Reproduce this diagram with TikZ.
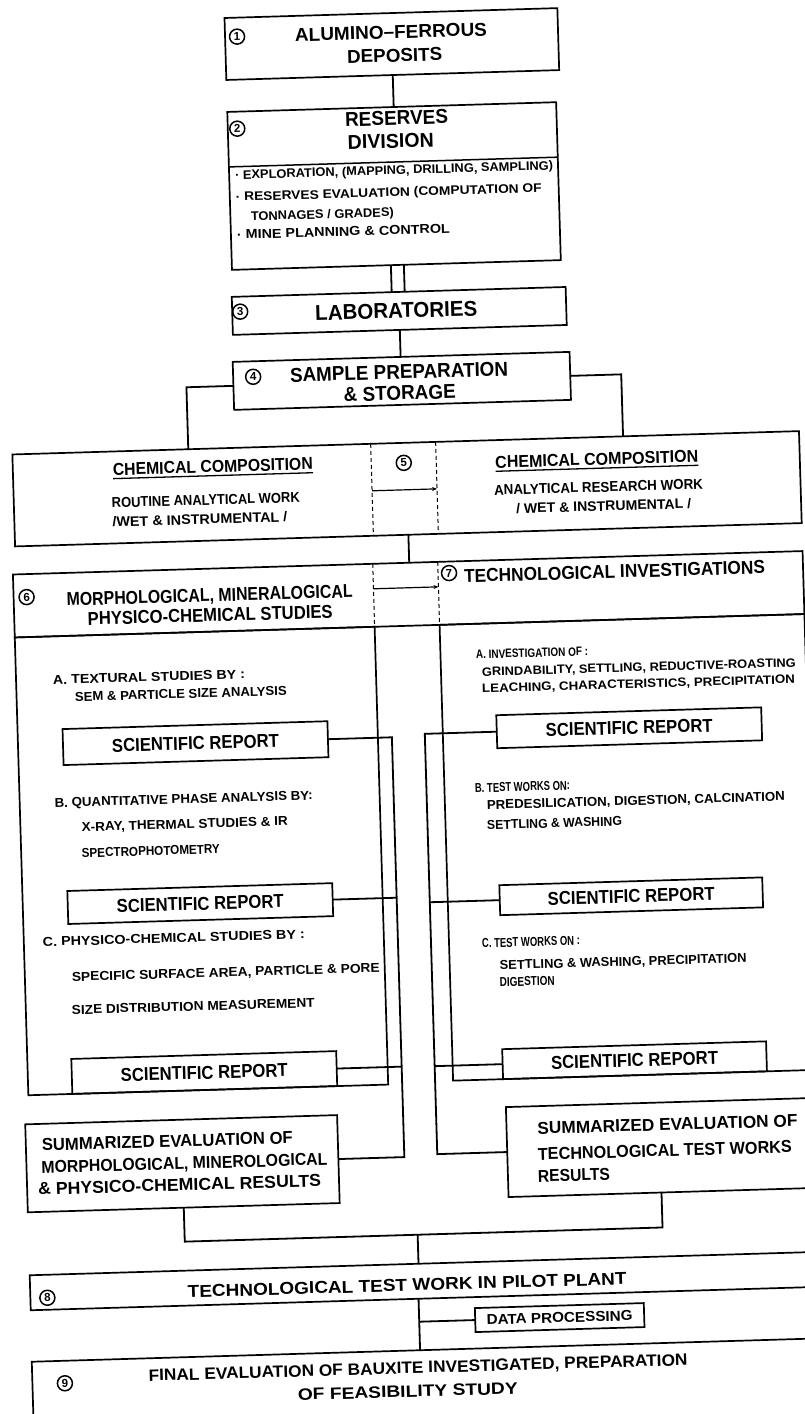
\documentclass[tikz,border=0pt]{standalone}
\usepackage{graphicx}
\usepackage{fontspec}
\setmainfont{Liberation Sans}
\usetikzlibrary{arrows.meta}
\newcommand\Lbl[3]{\resizebox{#2pt}{#1pt}{\bfseries #3}}
\begin{document}
\begin{tikzpicture}[x=1pt,y=-1pt,
 box/.style={draw, line width=1.7pt, inner sep=0pt, outer sep=0pt},
 tx/.style={inner sep=0pt, outer sep=0pt, anchor=base},
 tl/.style={inner sep=0pt, outer sep=0pt, anchor=base west},
 circ/.style={circle, draw, line width=1.5pt, minimum size=15pt, inner sep=0pt, font=\bfseries\fontsize{11.5}{11.5}\selectfont},
 ln/.style={line width=1.8pt},
 dsh/.style={line width=1pt, dash pattern=on 4pt off 3pt},
 arr/.style={line width=1.2pt, -{Stealth[length=5pt,width=4pt]}},
]
\path[use as bounding box, fill=white] (0,0) rectangle (805,1414);
\begin{scope}[rotate around={1.7:(402,707)}, transform shape]
% ---------- boxes ----------
\node[box, minimum width=333pt, minimum height=62pt] (b1) at (411.5,44) {};
\node[box, minimum width=329pt, minimum height=158pt] (b2) at (409.5,186) {};
\node[box, minimum width=334pt, minimum height=38pt] (b3) at (411,311) {};
\node[box, minimum width=337pt, minimum height=48pt] (b4) at (411.5,381) {};
\node[box, minimum width=787pt, minimum height=92pt] (b5) at (413.5,489) {};
\node[box, minimum width=790pt, minimum height=63pt] (hdr) at (412,594.5) {};
\node[box, minimum width=360pt, minimum height=458pt] (pl) at (197,855) {};
\node[box, minimum width=365pt, minimum height=456pt] (pr) at (624.5,854) {};
\node[box, minimum width=265pt, minimum height=36pt] (srl1) at (194.5,737) {\Lbl{13}{167}{SCIENTIFIC REPORT}};
\node[box, minimum width=265pt, minimum height=33pt] (srl2) at (194.5,897.5) {\Lbl{13}{167}{SCIENTIFIC REPORT}};
\node[box, minimum width=265pt, minimum height=35pt] (srl3) at (193.5,1066.5) {\Lbl{13}{167}{SCIENTIFIC REPORT}};
\node[box, minimum width=265pt, minimum height=33pt] (srr1) at (628.5,734.5) {\Lbl{13}{167}{SCIENTIFIC REPORT}};
\node[box, minimum width=263pt, minimum height=30pt] (srr2) at (625.5,903) {\Lbl{13}{167}{SCIENTIFIC REPORT}};
\node[box, minimum width=264pt, minimum height=30pt] (srr3) at (624,1067) {\Lbl{13}{167}{SCIENTIFIC REPORT}};
\node[box, minimum width=312pt, minimum height=88pt] (sl) at (169,1157) {};
\node[box, minimum width=306pt, minimum height=90pt] (sr) at (647,1155) {};
\node[box, minimum width=817pt, minimum height=35pt] (b8) at (421.5,1281.5) {};
\node[box, minimum width=169pt, minimum height=24pt] (dp) at (541.5,1322) {\Lbl{10}{146}{DATA PROCESSING}};
\node[box, minimum width=817pt, minimum height=89pt] (b9) at (421,1395) {};
% ---------- circled numbers ----------
\node[circ] (c1) at (257,32) {1};
\node[circ] (c2) at (254.5,124) {2};
\node[circ] (c3) at (252,307) {3};
\node[circ] (c4) at (263,372.5) {4};
\node[circ] (c5) at (411,463) {5};
\node[circ] (c6) at (30,586) {6};
\node[circ] (c7) at (453,574.5) {7};
\node[circ] (c8) at (30,1287) {8};
\node[circ] (c9) at (45,1373) {9};
% ---------- texts ----------
\node[tx] (t1a) at (411,38.5) {\Lbl{13}{192}{ALUMINO–FERROUS}};
\node[tx] (t1b) at (414,62) {\Lbl{13}{95}{DEPOSITS}};
\node[tx] (t2a) at (414,125) {\Lbl{14}{103}{RESERVES}};
\node[tx] (t2b) at (407.5,148) {\Lbl{14}{86}{DIVISION}};
\node[tl] (t2c) at (251,174.5) {\Lbl{9}{318}{· EXPLORATION, (MAPPING, DRILLING, SAMPLING)}};
\node[tl] (t2d) at (251,196.5) {\Lbl{9}{306}{· RESERVES EVALUATION (COMPUTATION OF}};
\node[tl] (t2e) at (265.5,216.5) {\Lbl{9}{143}{TONNAGES / GRADES)}};
\node[tl] (t2f) at (251,234.5) {\Lbl{9}{213}{· MINE PLANNING \& CONTROL}};
\node[tx] (t3) at (408,318) {\Lbl{15}{162}{LABORATORIES}};
\node[tx] (t4a) at (409,379) {\Lbl{14}{218}{SAMPLE PREPARATION}};
\node[tx] (t4b) at (409,400) {\Lbl{14}{112}{\& STORAGE}};
\node[tx] (t5a) at (220,467) {\Lbl{12}{200}{CHEMICAL COMPOSITION}};
\node[tl] (t5b) at (118,499.3) {\Lbl{10}{188}{ROUTINE ANALYTICAL WORK}};
\node[tl] (t5c) at (118,518.3) {\Lbl{10}{175}{/WET \& INSTRUMENTAL /}};
\node[tx] (t5d) at (604,471) {\Lbl{12}{203}{CHEMICAL COMPOSITION}};
\node[tx] (t5e) at (605,498) {\Lbl{10}{209}{ANALYTICAL RESEARCH WORK}};
\node[tx] (t5f) at (609.5,517) {\Lbl{10}{175}{/ WET \& INSTRUMENTAL /}};
\node[tx] (t6a) at (213,596) {\Lbl{13}{286}{MORPHOLOGICAL, MINERALOGICAL}};
\node[tx] (t6b) at (213,616) {\Lbl{13}{245}{PHYSICO-CHEMICAL STUDIES}};
\node[tx] (t7) at (618.5,584.4) {\Lbl{13}{301}{TECHNOLOGICAL INVESTIGATIONS}};
\node[tl] (la1) at (54,674) {\Lbl{9}{192}{A. TEXTURAL STUDIES BY :}};
\node[tl] (la2) at (75.3,691.7) {\Lbl{9}{212}{SEM \& PARTICLE SIZE ANALYSIS}};
\node[tl] (lb1) at (52,797) {\Lbl{9}{258}{B. QUANTITATIVE PHASE ANALYSIS BY:}};
\node[tl] (lb2) at (78.4,822) {\Lbl{9}{206}{X-RAY, THERMAL STUDIES \& IR}};
\node[tl] (lb3) at (77.6,848) {\Lbl{9}{138}{SPECTROPHOTOMETRY}};
\node[tl] (lc1) at (36,935.7) {\Lbl{9}{262}{C. PHYSICO-CHEMICAL STUDIES BY :}};
\node[tl] (lc2) at (64,971.5) {\Lbl{9}{308}{SPECIFIC SURFACE AREA, PARTICLE \& PORE}};
\node[tl] (lc3) at (63,1004.5) {\Lbl{9}{243}{SIZE DISTRIBUTION MEASUREMENT}};
\node[tl] (ra1) at (477.6,661) {\Lbl{8.5}{112}{A. INVESTIGATION OF :}};
\node[tl] (ra2) at (483,678.5) {\Lbl{8.5}{314}{GRINDABILITY, SETTLING, REDUCTIVE-ROASTING}};
\node[tl] (ra3) at (482.6,695) {\Lbl{8.5}{313}{LEACHING, CHARACTERISTICS, PRECIPITATION}};
\node[tl] (rb1) at (472.6,794.7) {\Lbl{9}{95}{B. TEST WORKS ON:}};
\node[tl] (rb2) at (484,812) {\Lbl{9}{298}{PREDESILICATION, DIGESTION, CALCINATION}};
\node[tl] (rb3) at (483.5,832) {\Lbl{9}{135}{SETTLING \& WASHING}};
\node[tl] (rc1) at (475,950) {\Lbl{9}{98}{C. TEST WORKS ON :}};
\node[tl] (rc2) at (492,972.5) {\Lbl{9}{247}{SETTLING \& WASHING, PRECIPITATION}};
\node[tl] (rc3) at (491.5,989.5) {\Lbl{9}{55}{DIGESTION}};
\node[tl] (sl1) at (29,1140) {\Lbl{12}{251}{SUMMARIZED EVALUATION OF}};
\node[tl] (sl2) at (28,1162.5) {\Lbl{12}{286}{MORPHOLOGICAL, MINEROLOGICAL}};
\node[tl] (sl3) at (24,1184) {\Lbl{12}{283}{\& PHYSICO-CHEMICAL RESULTS}};
\node[tl] (sr1) at (525,1138) {\Lbl{12}{260}{SUMMARIZED EVALUATION OF}};
\node[tl] (sr2) at (524.6,1164) {\Lbl{12}{254}{TECHNOLOGICAL TEST WORKS}};
\node[tl] (sr3) at (524,1186) {\Lbl{12}{72}{RESULTS}};
\node[tx] (t8) at (390,1291) {\Lbl{12}{439}{TECHNOLOGICAL TEST WORK IN PILOT PLANT}};
\node[tx] (t9a) at (398.5,1373.5) {\Lbl{11.5}{539}{FINAL EVALUATION OF BAUXITE INVESTIGATED, PREPARATION}};
\node[tx] (t9b) at (387.5,1397) {\Lbl{11.5}{220}{OF FEASIBILITY STUDY}};
% underlines
\draw[line width=1.3pt] ([yshift=-3pt]t5a.south west) -- ([yshift=-3pt]t5a.south east);
\draw[line width=1.3pt] ([yshift=-3pt]t5d.south west) -- ([yshift=-3pt]t5d.south east);
% ---------- inner dividers ----------
\coordinate (d2) at (0,162);
\draw[line width=1.5pt] (b2.west |- d2) -- (b2.east |- d2);
\coordinate (x5a) at (378.5,0);
\coordinate (x5b) at (443.5,0);
\draw[dsh] (b5.north -| x5a) -- (b5.south -| x5a);
\draw[dsh] (b5.north -| x5b) -- (b5.south -| x5b);
\coordinate (a5l) at (378.5,490);
\coordinate (a5r) at (443.5,490);
\draw[arr] (a5l) -- (a5r);
\coordinate (x6a) at (377,0);
\coordinate (x6b) at (442,0);
\draw[dsh] (hdr.north -| x6a) -- (hdr.south -| x6a);
\draw[dsh] (hdr.north -| x6b) -- (hdr.south -| x6b);
\coordinate (a6l) at (377,588);
\coordinate (a6r) at (442,588);
\draw[arr] (a6l) -- (a6r);
% ---------- connectors ----------
\draw[ln] (b1.south) -- (b1.south |- b2.north);
\coordinate (k2a) at (404,0);
\coordinate (k2b) at (417,0);
\draw[ln] (b2.south -| k2a) -- (b3.north -| k2a);
\draw[ln] (b2.south -| k2b) -- (b3.north -| k2b);
\draw[ln] (b3.south) -- (b3.south |- b4.north);
\coordinate (k4l) at (196,443);
\coordinate (k4r) at (631,443);
\draw[ln] (b4.west) -| (k4l);
\draw[ln] (b4.east) -| (k4r);
\draw[ln] (b5.south) -- (b5.south |- hdr.north);
\coordinate (kl) at (391,1157);
\draw[ln] (srl1.east) -| (kl) -- (sl.east);
\draw[ln] (srl2.east) -- (srl2.east -| kl);
\draw[ln] (srl3.east) -- (srl3.east -| kl);
\coordinate (kr) at (424,1155);
\draw[ln] (srr1.west) -| (kr) -- (sr.west);
\draw[ln] (srr2.west) -- (srr2.west -| kr);
\draw[ln] (srr3.west) -- (srr3.west -| kr);
\coordinate (kb) at (402,1235);
\draw[ln] (sl.south) |- (kb) -| (sr.south);
\draw[ln] (kb) -- (kb |- b8.north);
\coordinate (kd) at (401,1322);
\draw[ln] (kd |- b8.south) -- (kd |- b9.north);
\draw[ln] (kd) -- (dp.west);
\end{scope}
\end{tikzpicture}
\end{document}
